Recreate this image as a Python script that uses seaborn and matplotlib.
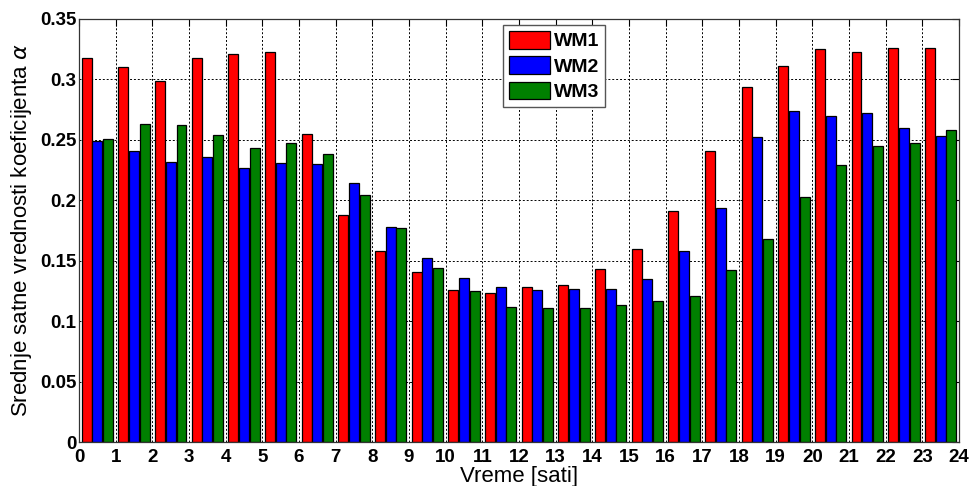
import numpy as np
import pandas as pd
import matplotlib
matplotlib.use("Agg")
import matplotlib.pyplot as plt
import seaborn as sns

# hourly mean alpha coefficient values for three wind masts
hours = list(range(24))
wm1 = [0.318, 0.310, 0.299, 0.318, 0.321, 0.323, 0.255, 0.188, 0.158, 0.141, 0.126, 0.123,
       0.128, 0.130, 0.143, 0.160, 0.191, 0.241, 0.294, 0.311, 0.325, 0.323, 0.326, 0.326]
wm2 = [0.249, 0.241, 0.232, 0.236, 0.227, 0.231, 0.230, 0.214, 0.178, 0.152, 0.136, 0.128,
       0.126, 0.127, 0.127, 0.135, 0.158, 0.194, 0.252, 0.274, 0.270, 0.272, 0.260, 0.253]
wm3 = [0.251, 0.263, 0.262, 0.254, 0.243, 0.247, 0.238, 0.204, 0.177, 0.144, 0.125, 0.112,
       0.111, 0.111, 0.113, 0.117, 0.121, 0.142, 0.168, 0.203, 0.229, 0.245, 0.247, 0.258]
series_names = ["WM1", "WM2", "WM3"]
colors = ["#FF0000", "#0000FF", "#008000"]
x_labels = [str(h) for h in range(25)]
y_ticks = [0, 0.05, 0.1, 0.15, 0.2, 0.25, 0.3, 0.35]

df = pd.DataFrame({
    "hour": hours * 3,
    "value": wm1 + wm2 + wm3,
    "series": [s for s in series_names for _ in hours],
})

sns.set_style("white", {"text.color": "black", "axes.labelcolor": "black",
                        "xtick.color": "black", "ytick.color": "black"})
plt.rcParams["font.family"] = ["Liberation Sans", "DejaVu Sans"]
plt.rcParams["mathtext.fontset"] = "dejavusans"

fig = plt.figure(figsize=(9.71, 4.86), dpi=100)
ax = fig.add_axes([0.0814, 0.0905, 0.9062, 0.8705])

sns.barplot(data=df, x="hour", y="value", hue="series", hue_order=series_names,
            palette=colors, saturation=1, width=0.88, gap=0.08,
            edgecolor="black", linewidth=0.9, ax=ax, legend=True)

ax.set_xlim(-0.5, 23.5)
ax.set_ylim(0, 0.35)
ax.set_xticks(np.arange(-0.5, 24, 1))
ax.set_xticklabels(x_labels, fontsize=13.5, fontweight="bold")
ax.set_yticks(y_ticks)
ax.set_yticklabels([f"{v:g}" for v in y_ticks], fontsize=13.5, fontweight="bold")

ax.set_axisbelow(True)
ax.grid(True, color="black", linestyle=(0, (2, 2)), linewidth=0.7)
ax.tick_params(direction="in", top=True, right=True, length=5, width=0.8,
               pad=2, colors="black")
ax.tick_params(axis="x", pad=5)
for sp in ax.spines.values():
    sp.set_color("#333333")
    sp.set_linewidth(0.9)

ax.set_xlabel("Vreme [sati]", fontsize=16, labelpad=0, color="black")
ax.set_ylabel(r"Srednje satne vrednosti koeficijenta $\alpha$", fontsize=16,
              labelpad=4, color="black")

leg = ax.legend(loc="upper left", bbox_to_anchor=(0.482, 0.985), fancybox=False,
                frameon=True, edgecolor="#555555", framealpha=1,
                prop={"weight": "bold", "size": 14}, handlelength=2.1,
                handleheight=1.0, handletextpad=0.2, borderpad=0.3,
                labelspacing=0.3, borderaxespad=0)
leg.get_frame().set_linewidth(1.0)
for t in leg.get_texts():
    t.set_color("black")

fig.savefig("out.png", dpi=100)
